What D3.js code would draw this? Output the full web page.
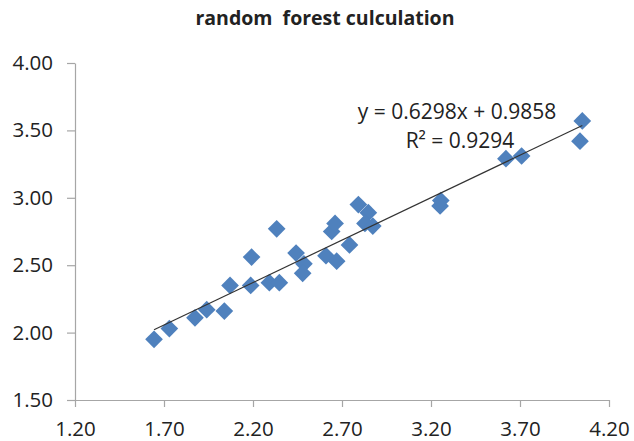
<!DOCTYPE html>
<html lang="en">
<head>
    <title>random forest culculation</title>
    <script src="https://cdn.jsdelivr.net/npm/d3@7"></script>
    <style>
        body { margin: 0; background: #fff; }
        text { font-family: "Open Sans", "DejaVu Sans", sans-serif; fill: #222; }
    </style>
</head>

<body>

<div id="chart"></div>

<script type="text/javascript">
// measured values (x = observed, y = random forest)
var xValues = [1.644, 1.730, 1.874, 1.940, 2.039, 2.071, 2.187, 2.192, 2.292, 2.348,
               2.333, 2.442, 2.486, 2.479, 2.610, 2.670, 2.642, 2.661, 2.742, 2.792,
               2.848, 2.829, 2.873, 3.251, 3.255, 3.621, 3.709, 4.050, 4.037];
var yValues = [1.95, 2.03, 2.11, 2.17, 2.16, 2.35, 2.35, 2.56, 2.37, 2.37,
               2.77, 2.59, 2.51, 2.44, 2.57, 2.53, 2.75, 2.81, 2.65, 2.95,
               2.89, 2.81, 2.79, 2.94, 2.98, 3.29, 3.31, 3.57, 3.42];

var xTicks = [1.2, 1.7, 2.2, 2.7, 3.2, 3.7, 4.2];
var yTicks = [1.5, 2.0, 2.5, 3.0, 3.5, 4.0];

var slope = 0.6298;
var intercept = 0.9858;
var rSquared = 0.9294;

var chartTitle = "random  forest culculation";

var width = 634, height = 441;

var svg = d3.select("#chart")
            .append("svg")
            .attr("width", width)
            .attr("height", height);

var x = d3.scaleLinear().domain([1.2, 4.2]).range([75, 609]);
var y = d3.scaleLinear().domain([1.5, 4.0]).range([400, 63]);

var axisColor = "#a6a6a6";

// y axis
var yAxis = svg.append("g")
    .attr("transform", "translate(" + x(1.2) + ",0)")
    .call(d3.axisLeft(y)
            .tickValues(yTicks)
            .tickSizeInner(8)
            .tickSizeOuter(0)
            .tickPadding(14)
            .tickFormat(d3.format(".2f")));

// x axis
var xAxis = svg.append("g")
    .attr("transform", "translate(0," + y(1.5) + ")")
    .call(d3.axisBottom(x)
            .tickValues(xTicks)
            .tickSizeInner(7)
            .tickSizeOuter(0)
            .tickPadding(14)
            .tickFormat(d3.format(".2f")));

[xAxis, yAxis].forEach(function(a) {
    a.select(".domain").attr("stroke", axisColor).attr("stroke-width", 1.2);
    a.selectAll(".tick line").attr("stroke", axisColor).attr("stroke-width", 1.2);
    a.selectAll(".tick text")
     .attr("font-family", "Open Sans")
     .attr("font-size", "20.5px")
     .attr("fill", "#222");
});

// points
var points = xValues.map(function(v, i) { return [v, yValues[i]]; });

svg.append("g")
    .selectAll("path")
    .data(points)
    .enter().append("path")
    .attr("transform", function(d) { return "translate(" + x(d[0]) + "," + y(d[1]) + ")"; })
    .attr("d", d3.symbol().type(d3.symbolDiamond2).size(200))
    .attr("fill", "#4f81bd");

// trend line
var xMin = d3.min(xValues), xMax = d3.max(xValues);

svg.append("line")
    .attr("x1", x(xMin))
    .attr("y1", y(slope * xMin + intercept))
    .attr("x2", x(xMax))
    .attr("y2", y(slope * xMax + intercept))
    .attr("stroke", "#333")
    .attr("stroke-width", 1.2);

// equation
svg.append("text")
    .attr("x", 457)
    .attr("y", 119)
    .attr("text-anchor", "middle")
    .attr("font-size", "21px")
    .text("y = " + slope + "x + " + intercept);

svg.append("text")
    .attr("x", 460)
    .attr("y", 148)
    .attr("text-anchor", "middle")
    .attr("font-size", "21px")
    .text("R\u00b2 = " + rSquared);

// title
svg.append("text")
    .attr("x", 325)
    .attr("y", 25)
    .attr("text-anchor", "middle")
    .attr("font-size", "19.5px")
    .attr("font-weight", "bold")
    .attr("fill", "#111")
    .style("white-space", "pre")
    .text(chartTitle);
</script>

</body>

</html>
